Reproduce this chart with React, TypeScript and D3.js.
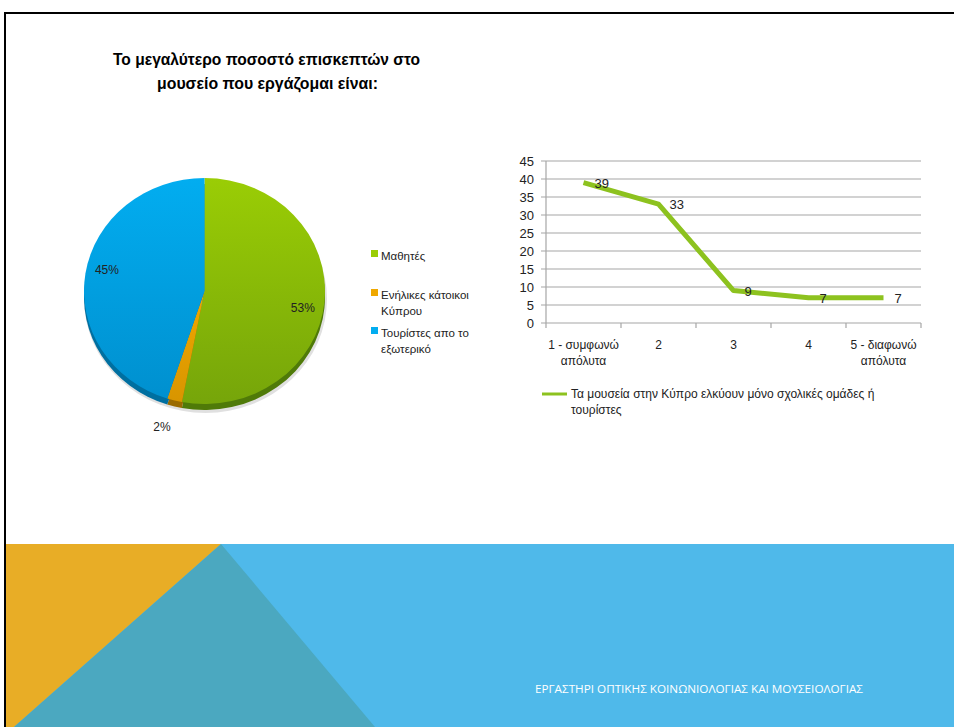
import React from "react";
import * as d3 from "d3";

const pieLabels = ["Μαθητές", "Ενήλικες κάτοικοι Κύπρου", "Τουρίστες απο το εξωτερικό"];
const pieValues = [53, 2, 45];
const pieText = ["53%", "2%", "45%"];
const pieLegendLines = [["Μαθητές"], ["Ενήλικες κάτοικοι", "Κύπρου"], ["Τουρίστες απο το", "εξωτερικό"]];

const lineCategories = ["1 - συμφωνώ απόλυτα", "2", "3", "4", "5 - διαφωνώ απόλυτα"];
const lineCategoryLines = [["1 - συμφωνώ", "απόλυτα"], ["2"], ["3"], ["4"], ["5 - διαφωνώ", "απόλυτα"]];
const lineValues = [39, 33, 9, 7, 7];
const yTicks = [0, 5, 10, 15, 20, 25, 30, 35, 40, 45];
const seriesName = ["Τα μουσεία στην Κύπρο ελκύουν μόνο σχολικές ομάδες ή", "τουρίστες"];

const titleLines = ["Το μεγαλύτερο ποσοστό επισκεπτών στο", "μουσείο που εργάζομαι είναι:"];
const footer = "ΕΡΓΑΣΤΗΡΙ ΟΠΤΙΚΗΣ ΚΟΙΝΩΝΙΟΛΟΓΙΑΣ ΚΑΙ ΜΟΥΣΕΙΟΛΟΓΙΑΣ";

const topColors = [["#9ACD05", "#76A50A"], ["#EFA800", "#D89500"], ["#02ADF0", "#0090CF"]];
const sideColors = ["#4F7A08", "#9A6A00", "#006FA0"];

const FONT = "'Liberation Sans', Arial, sans-serif";

export default function App() {
  const W = 954, H = 727;
  // pie
  const cx = 204.5, cy = 291, rx = 120.5, ry = 113, depth = 6;
  const pie = d3.pie<number>().sort(null).value((d) => d)(pieValues);
  const arc = d3.arc<d3.PieArcDatum<number>>().innerRadius(0).outerRadius(rx);
  const sy = ry / rx;
  const labelR = [0.82, 1.25, 0.82];
  const labelDx = [0, -5, 0];
  const labelDy = [9, 0, -6];

  // line chart
  const x = d3.scaleBand<string>().domain(lineCategories).range([546, 921]);
  const y = d3.scaleLinear().domain([0, 45]).range([323, 161]);
  const line = d3.line<number>().x((_, i) => x(lineCategories[i])! + x.bandwidth() / 2).y((d) => y(d));

  const labelPos = (d: d3.PieArcDatum<number>, i: number) => {
    const mid = (d.startAngle + d.endAngle) / 2;
    const r = rx * labelR[i];
    const px = cx + Math.sin(mid) * r + labelDx[i];
    const py = cy - Math.cos(mid) * r * sy + labelDy[i];
    return [px, py];
  };

  return (
    <svg width={W} height={H} style={{ position: "absolute", left: 0, top: 0, background: "#fff" }}>
      <defs>
        {topColors.map((c, i) => (
          <linearGradient key={i} id={`g${i}`} x1="0" y1="0" x2="0" y2="1">
            <stop offset="0" stopColor={c[0]} />
            <stop offset="1" stopColor={c[1]} />
          </linearGradient>
        ))}
      </defs>
      <rect x={0} y={0} width={W} height={H} fill="#fff" />
      {/* frame */}
      <path d={`M5,${H} L5,13 L${W},13`} fill="none" stroke="#000" strokeWidth={2} />

      {/* bottom band */}
      <rect x={6} y={544} width={W - 6} height={H - 544} fill="#4FB9EA" />
      <path d={`M6,544 L221,544 L14,${H} L6,${H} Z`} fill="#E8AD26" />
      <path d={`M221,544 L375,${H} L14,${H} Z`} fill="#4BA8C0" />
      <text x={535} y={693} fill="#fff" fontFamily="'Open Sans', sans-serif" fontSize={10.5} textLength={328} lengthAdjust="spacingAndGlyphs">{footer}</text>

      {/* title */}
      {titleLines.map((t, i) => (
        <text key={i} x={i === 0 ? 113 : 157} y={65 + i * 24} fontFamily="'Liberation Sans', sans-serif" fontWeight="bold" fontSize={17} textLength={i === 0 ? 307 : 221} lengthAdjust="spacingAndGlyphs">{t}</text>
      ))}

      {/* pie side */}
      <ellipse cx={cx + 1} cy={cy + depth + 2} rx={rx + 1} ry={ry + 1} fill="#000" opacity={0.12} />
      <g transform={`translate(${cx},${cy + depth}) scale(1,${sy})`}>
        {pie.map((d, i) => (
          <path key={i} d={arc(d)!} fill={sideColors[i]} />
        ))}
      </g>
      <g transform={`translate(${cx},${cy}) scale(1,${sy})`}>
        {pie.map((d, i) => (
          <path key={i} d={arc(d)!} fill={`url(#g${i})`} />
        ))}
      </g>
      {pie.map((d, i) => {
        const [px, py] = labelPos(d, i);
        return (
          <text key={i} x={px} y={py} textAnchor="middle" dominantBaseline="middle" fontFamily={FONT} fontSize={12} fill="#222">{pieText[i]}</text>
        );
      })}
      {/* pie legend */}
      {pieLegendLines.map((lines, i) => {
        const ys = [256, 295, 333][i];
        return (
          <g key={i}>
            <rect x={371} y={ys - 6} width={7} height={7} fill={topColors[i][0]} />
            {lines.map((t, j) => (
              <text key={j} x={381} y={ys + 4 + j * 15.5} fontFamily={FONT} fontSize={11.5} fill="#222">{t}</text>
            ))}
          </g>
        );
      })}

      {/* line chart grid */}
      {yTicks.map((t) => (
        <g key={t}>
          <line x1={541} x2={921} y1={y(t)} y2={y(t)} stroke="#A6A6A6" strokeWidth={1.2} />
          <text x={534} y={y(t) + 4.5} textAnchor="end" fontFamily={FONT} fontSize={13} fill="#222">{t}</text>
        </g>
      ))}
      <line x1={546} x2={546} y1={161} y2={323} stroke="#A6A6A6" strokeWidth={1.2} />
      {lineCategories.map((c) => (
        <line key={c} x1={x(c)! + x.bandwidth()} x2={x(c)! + x.bandwidth()} y1={323} y2={328} stroke="#A6A6A6" strokeWidth={1.2} />
      ))}
      <line x1={546} x2={546} y1={323} y2={328} stroke="#A6A6A6" strokeWidth={1.2} />
      {lineCategoryLines.map((lines, i) => (
        <g key={i}>
          {lines.map((t, j) => (
            <text key={j} x={x(lineCategories[i])! + x.bandwidth() / 2} y={349 + j * 16} textAnchor="middle" fontFamily={FONT} fontSize={12} fill="#222">{t}</text>
          ))}
        </g>
      ))}
      <path d={line(lineValues)!} fill="none" stroke="#8DC21F" strokeWidth={5} strokeLinejoin="round" />
      {lineValues.map((v, i) => (
        <text key={i} x={x(lineCategories[i])! + x.bandwidth() / 2 + 11} y={y(v) + 5} fontFamily={FONT} fontSize={13} fill="#222">{v}</text>
      ))}
      {/* line legend */}
      <line x1={542} x2={567} y1={394} y2={394} stroke="#8DC21F" strokeWidth={3} />
      {seriesName.map((t, j) => (
        <text key={j} x={571} y={398 + j * 16} fontFamily={FONT} fontSize={12} fill="#222">{t}</text>
      ))}
    </svg>
  );
}
